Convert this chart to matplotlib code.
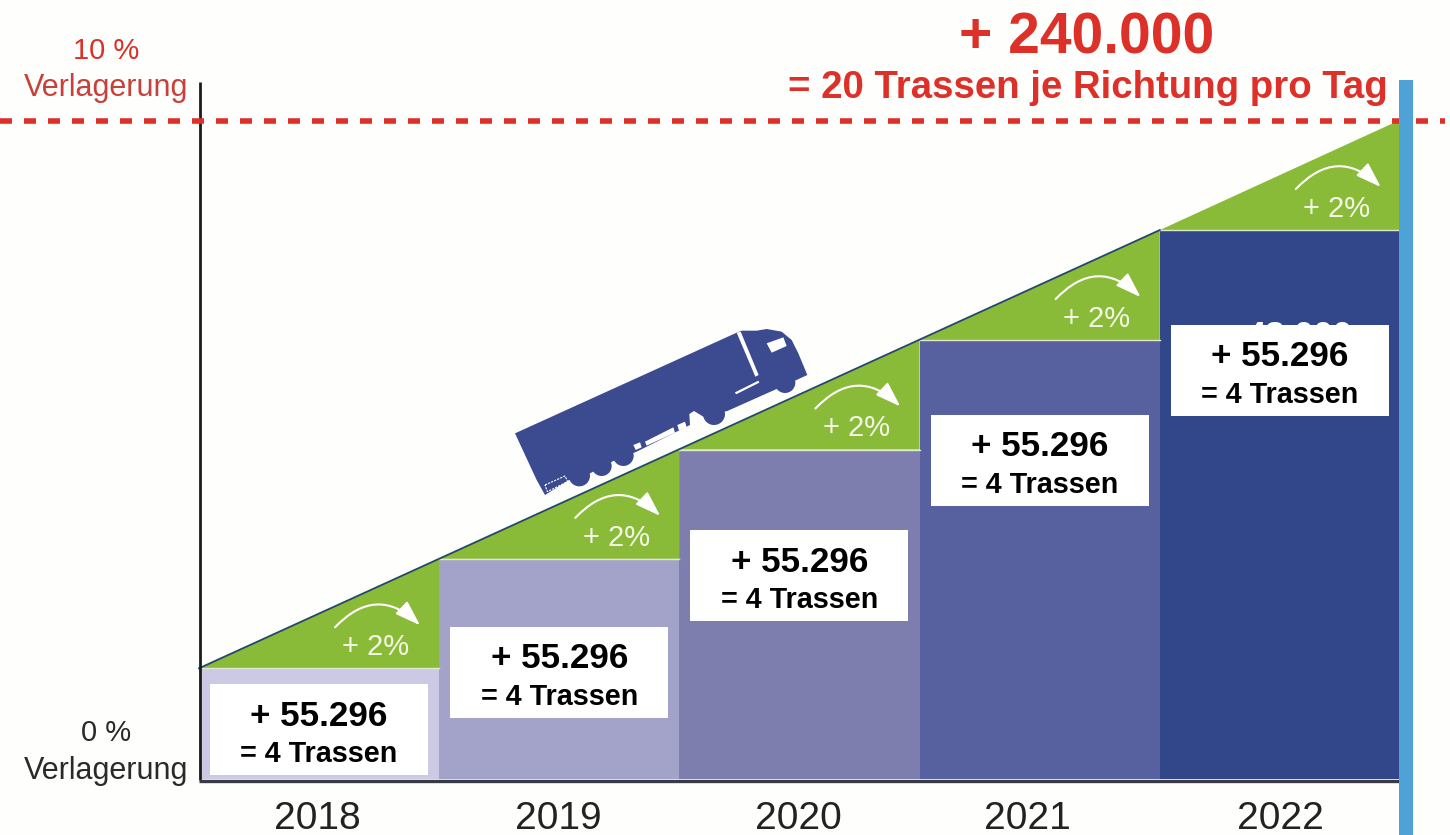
import numpy as np
import matplotlib
matplotlib.use("Agg")
import matplotlib.pyplot as plt
from matplotlib.patches import Circle, FancyArrowPatch, Polygon, Rectangle

plt.rcParams["font.family"] = "Liberation Sans"

# Chart content
years = ["2018", "2019", "2020", "2021", "2022"]
levels = [1.68, 3.34, 5.00, 6.66, 8.33]
ramp_end = 10.0
step_label = "+ 2%"
box_value = "+ 55.296"
box_note = "= 4 Trassen"
hidden_value = "48.000"
axis_labels = ["10 %", "0 %"]
axis_word = "Verlagerung"
headline = "+ 240.000"
subline = "= 20 Trassen je Richtung pro Tag"

# Styling and layout
bar_colors = ["#cbc9e3", "#a3a3ca", "#7e7eae", "#58619f", "#32478a"]
green = "#8abb38"
red = "#dc3029"
blue_bar = "#4fa2d6"
truck_blue = "#3c4a90"
paper = "#fefefc"
box_tops_px = [684, 627, 530, 415, 325]
year_centers_px = [317.5, 558.5, 798.5, 1027, 1280]

W, H = 1450, 835
X0, UNIT_X = 199.0, 240.2
Y0, UNIT_Y = 779.0, 65.9

fig = plt.figure(figsize=(W / 100, H / 100), dpi=100, facecolor=paper)

# Data axes: x in bar widths, y in percent
ax = fig.add_axes([0, 0, 1, 1])
ax.set_xlim(-X0 / UNIT_X, (W - X0) / UNIT_X)
ax.set_ylim((Y0 - H) / UNIT_Y, Y0 / UNIT_Y)
ax.axis("off")

x = np.arange(len(years))
ax.bar(x, levels, width=1, align="edge", color=bar_colors, linewidth=0, zorder=2)

tops = levels + [ramp_end]
for i in x:
    ax.fill([i, i + 1, i + 1], [tops[i], tops[i + 1], tops[i]],
            color=green, linewidth=0, zorder=2)
    ax.plot([i, i + 1], [tops[i], tops[i]], color="#dfe8cf", lw=1, zorder=3)
ax.plot([0, 4], [tops[0], tops[4]], color="#25476a", lw=1.3, zorder=3)

# Overlay axes for annotations, measured in figure pixels
px = fig.add_axes([0, 0, 1, 1])
px.set_xlim(0, W)
px.set_ylim(H, 0)
px.axis("off")
px.patch.set_alpha(0)

# Axis lines
px.plot([200, 200], [82, 780], color="#1c1c1c", lw=2.0, solid_capstyle="butt", zorder=4)
px.plot([199, 1400], [780.5, 780.5], color="#3a3a44", lw=2.4, solid_capstyle="butt", zorder=4)

# Target line and end marker
px.plot([0, 1445], [120.5, 120.5], color=red, lw=4.0, dashes=(2.16, 2.16),
        dash_capstyle="butt", zorder=5)
px.add_patch(Rectangle((1399, 80), 14, H - 80, color=blue_bar, lw=0, zorder=6))

for i, year in enumerate(years):
    left = X0 + i * UNIT_X
    top = Y0 - levels[i] * UNIT_Y
    px.text(year_centers_px[i], 829, year, ha="center", va="baseline",
            fontsize=28, color="#222222")

    # Growth step: curved arrow and percentage
    arrow = FancyArrowPatch((left + 136, top - 41), (left + 221, top - 43),
                            connectionstyle="arc3,rad=-0.5",
                            arrowstyle="-|>,head_length=0.65,head_width=0.22",
                            mutation_scale=24, color="white", lw=1.5,
                            shrinkA=0, shrinkB=0, zorder=7)
    px.add_patch(arrow)
    px.text(left + 177, top - 21, step_label, ha="center", va="center",
            fontsize=21, color="#f3f7e6", zorder=7)

    # Value box
    bx = left + 11
    by = box_tops_px[i]
    if i == len(years) - 1:
        px.text(bx + 129, by + 12, hidden_value, ha="center", va="center",
                fontsize=25, fontweight="bold", color="white", zorder=7)
    px.add_patch(Rectangle((bx, by), 218, 91, color="white", lw=0, zorder=8))
    px.text(bx + 109, by + 32, box_value, ha="center", va="center",
            fontsize=25.2, fontweight="bold", color="black", zorder=9)
    px.text(bx + 109, by + 70, box_note, ha="center", va="center",
            fontsize=20.7, fontweight="bold", color="black", zorder=9)

# Axis captions
px.text(106, 51, axis_labels[0], ha="center", va="center", fontsize=21, color=red)
px.text(188, 88, axis_word, ha="right", va="center", fontsize=22, color="#c8403a")
px.text(106, 733, axis_labels[1], ha="center", va="center", fontsize=21, color="#2a2a2a")
px.text(188, 771, axis_word, ha="right", va="center", fontsize=22, color="#2a2a2a")

# Headline
px.text(1087, 38, headline, ha="center", va="center", fontsize=41,
        fontweight="bold", color=red)
px.text(1088, 88, subline, ha="center", va="center", fontsize=27.6,
        fontweight="bold", color=red)

# Truck silhouette, traced on a 3x grid anchored at (490, 310)
def truck(points):
    return [(490 + a / 3, 310 + b / 3) for a, b in points]

body = [(75, 370), (740, 68), (755, 62), (800, 62), (830, 57), (875, 65), (905, 90),
        (925, 130), (952, 195), (880, 228), (712, 303), (640, 320), (612, 303),
        (598, 312), (600, 345), (440, 425), (372, 452), (300, 490), (237, 510),
        (165, 555), (140, 510)]
wheels = [(268, 497, 32), (335, 468, 30), (400, 437, 31), (672, 312, 33), (885, 218, 31)]
details = [
    [(740, 68), (752, 65), (806, 195), (796, 200)],
    [(830, 100), (880, 82), (890, 108), (845, 128)],
    [(465, 395), (550, 352), (555, 368), (470, 407)],
    [(735, 247), (805, 212), (808, 218), (738, 253)],
    [(562, 345), (585, 335), (590, 352), (567, 362)],
    [(430, 405), (450, 397), (455, 412), (437, 420)],
]
rear_bumper = [(165, 525), (225, 498), (233, 515), (172, 545)]
px.add_patch(Polygon(truck(body), closed=True, color=truck_blue, lw=0, zorder=7))
for wx, wy, r in wheels:
    cx, cy = truck([(wx, wy)])[0]
    px.add_patch(Circle((cx, cy), r / 3, color=truck_blue, lw=0, zorder=7))
for part in details:
    px.add_patch(Polygon(truck(part), closed=True, color="white", lw=0, zorder=8))
px.add_patch(Polygon(truck(rear_bumper), closed=True, fill=False, edgecolor="white",
                     lw=0.8, ls=(0, (2, 1)), zorder=8))

fig.savefig("out.png", dpi=100, facecolor=paper)
